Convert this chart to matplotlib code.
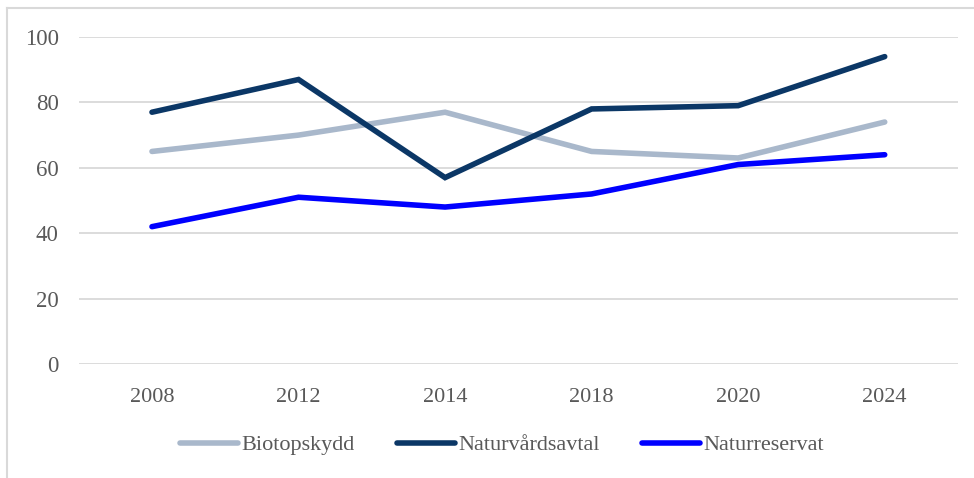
import matplotlib
matplotlib.use('Agg')
import matplotlib.pyplot as plt
from matplotlib.lines import Line2D

plt.rcParams['font.family'] = ['Liberation Serif', 'DejaVu Serif']

years = ['2008', '2012', '2014', '2018', '2020', '2024']
biotopskydd = [65, 70, 77, 65, 63, 74]
naturvardsavtal = [77, 87, 57, 78, 79, 94]
naturreservat = [42, 51, 48, 52, 61, 64]

series = [
    ('Biotopskydd', biotopskydd, '#a9b8cb'),
    ('Naturvårdsavtal', naturvardsavtal, '#0b3766'),
    ('Naturreservat', naturreservat, '#0000ff'),
]

text_color = '#595959'

fig = plt.figure(figsize=(9.74, 4.78), dpi=100)
ax = fig.add_axes([78.7 / 974, 1 - 364 / 478, (958 - 78.7) / 974, (364 - 37) / 478])

x = range(len(years))
for name, vals, col in series:
    ax.plot(x, vals, color=col, lw=4, solid_capstyle='round',
            solid_joinstyle='miter', label=name)

ax.set_xlim(-0.5, len(years) - 0.5)
ax.set_ylim(0, 100)
ax.set_yticks(range(0, 101, 20))
ax.set_xticks(list(x))
ax.set_xticklabels(years)
ax.grid(axis='y', color='#d9d9d9', lw=1.3)
ax.set_axisbelow(True)
for s in ax.spines.values():
    s.set_visible(False)
ax.tick_params(length=0, colors=text_color)
ax.tick_params(axis='y', labelsize=16.5, pad=14.5)
ax.tick_params(axis='x', labelsize=16, pad=17)

leg = fig.legend(loc='center', bbox_to_anchor=(502 / 974, 1 - 445 / 478), ncol=3,
                 frameon=False, fontsize=16, handlelength=2.6, handletextpad=0.15,
                 columnspacing=1.9, labelcolor=text_color)
for h in leg.legend_handles:
    h.set_linewidth(4)

# figure border (left and top)
fig.add_artist(Line2D([7 / 974, 7 / 974], [0, 1 - 8 / 478], color='#d9d9d9', lw=1.5,
                      transform=fig.transFigure))
fig.add_artist(Line2D([7 / 974, 1], [1 - 8 / 478, 1 - 8 / 478], color='#d9d9d9', lw=1.5,
                      transform=fig.transFigure))

fig.savefig('out.png', dpi=100)
